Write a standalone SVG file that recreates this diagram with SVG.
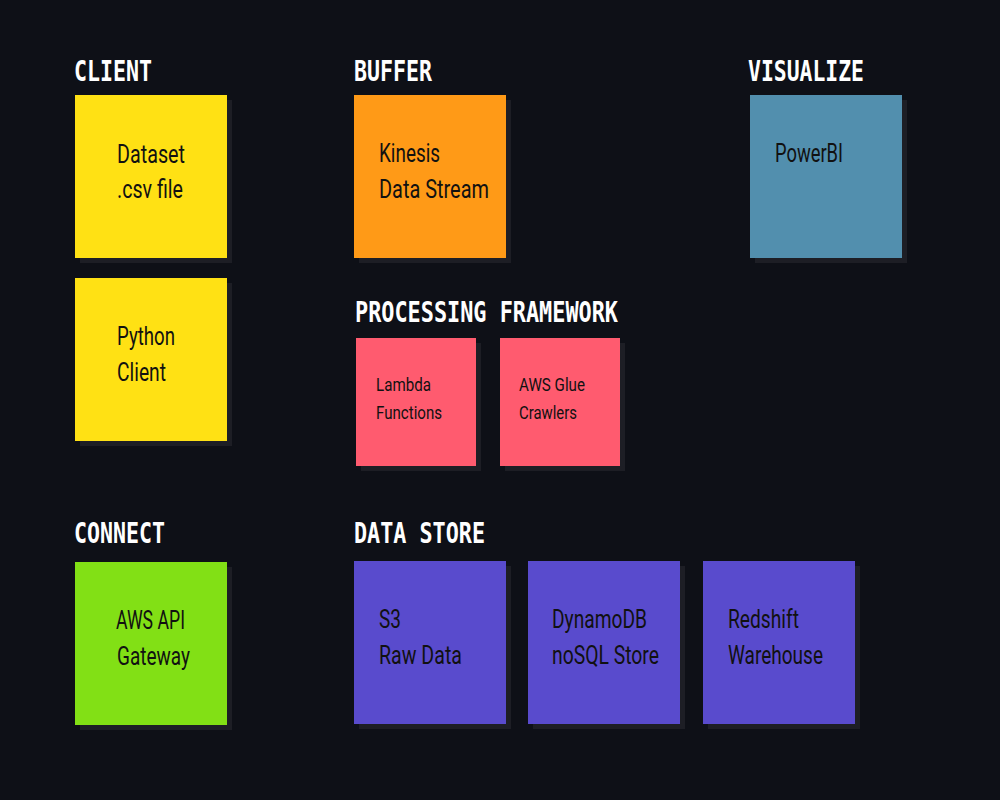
<svg xmlns="http://www.w3.org/2000/svg" width="1000" height="800" viewBox="0 0 1000 800">
<defs>
<style>
.bg{fill:#0e1017}
.sh{fill:#1d1e25}
.h{font-family:"DejaVu Sans Mono","Liberation Mono",monospace;font-weight:bold;font-size:28px;fill:#ffffff}
.t{font-family:Roboto,"Liberation Sans",sans-serif;font-size:25px;fill:#111111}
.s{font-family:Roboto,"Liberation Sans",sans-serif;font-size:18px;fill:#111111}
.yel{fill:#ffe114}
.org{fill:#ff9a17}
.blu{fill:#528fae}
.red{fill:#ff5b6f}
.pur{fill:#594bcd}
.grn{fill:#82e015}
</style>
</defs>
<rect class="bg" x="0" y="0" width="1000" height="800"/>
<g id="headings">
<text class="h" x="74" y="81" textLength="78" lengthAdjust="spacingAndGlyphs">CLIENT</text>
<text class="h" x="354" y="81" textLength="78" lengthAdjust="spacingAndGlyphs">BUFFER</text>
<text class="h" x="748" y="81" textLength="116" lengthAdjust="spacingAndGlyphs">VISUALIZE</text>
<text class="h" x="355" y="322" textLength="263" lengthAdjust="spacingAndGlyphs">PROCESSING FRAMEWORK</text>
<text class="h" x="74" y="543" textLength="91" lengthAdjust="spacingAndGlyphs">CONNECT</text>
<text class="h" x="354" y="543" textLength="131" lengthAdjust="spacingAndGlyphs">DATA STORE</text>
</g>
<g id="dataset">
<rect class="sh" x="80" y="100" width="152" height="163"/>
<rect class="yel" x="75" y="95" width="152" height="163"/>
<text class="t" x="117" y="163" textLength="68" lengthAdjust="spacingAndGlyphs">Dataset</text>
<text class="t" x="117" y="198" textLength="66" lengthAdjust="spacingAndGlyphs">.csv file</text>
</g>
<g id="python-client">
<rect class="sh" x="80" y="283" width="152" height="163"/>
<rect class="yel" x="75" y="278" width="152" height="163"/>
<text class="t" x="117" y="345" textLength="58" lengthAdjust="spacingAndGlyphs">Python</text>
<text class="t" x="117" y="381" textLength="49" lengthAdjust="spacingAndGlyphs">Client</text>
</g>
<g id="kinesis">
<rect class="sh" x="359" y="100" width="152" height="163"/>
<rect class="org" x="354" y="95" width="152" height="163"/>
<text class="t" x="379" y="162" textLength="61" lengthAdjust="spacingAndGlyphs">Kinesis</text>
<text class="t" x="379" y="198" textLength="110" lengthAdjust="spacingAndGlyphs">Data Stream</text>
</g>
<g id="powerbi">
<rect class="sh" x="755" y="100" width="152" height="163"/>
<rect class="blu" x="750" y="95" width="152" height="163"/>
<text class="t" x="775" y="162" textLength="68" lengthAdjust="spacingAndGlyphs">PowerBI</text>
</g>
<g id="lambda">
<rect class="sh" x="361" y="343" width="120" height="128"/>
<rect class="red" x="356" y="338" width="120" height="128"/>
<text class="s" x="376" y="391" textLength="55" lengthAdjust="spacingAndGlyphs">Lambda</text>
<text class="s" x="376" y="419" textLength="66" lengthAdjust="spacingAndGlyphs">Functions</text>
</g>
<g id="glue">
<rect class="sh" x="505" y="343" width="120" height="128"/>
<rect class="red" x="500" y="338" width="120" height="128"/>
<text class="s" x="519" y="391" textLength="66" lengthAdjust="spacingAndGlyphs">AWS Glue</text>
<text class="s" x="519" y="419" textLength="58" lengthAdjust="spacingAndGlyphs">Crawlers</text>
</g>
<g id="api-gateway">
<rect class="sh" x="80" y="567" width="152" height="163"/>
<rect class="grn" x="75" y="562" width="152" height="163"/>
<text class="t" x="116" y="629" textLength="69" lengthAdjust="spacingAndGlyphs">AWS API</text>
<text class="t" x="117" y="665" textLength="73" lengthAdjust="spacingAndGlyphs">Gateway</text>
</g>
<g id="s3">
<rect class="sh" x="359" y="566" width="152" height="163"/>
<rect class="pur" x="354" y="561" width="152" height="163"/>
<text class="t" x="379" y="628" textLength="22" lengthAdjust="spacingAndGlyphs">S3</text>
<text class="t" x="379" y="664" textLength="83" lengthAdjust="spacingAndGlyphs">Raw Data</text>
</g>
<g id="dynamodb">
<rect class="sh" x="533" y="566" width="152" height="163"/>
<rect class="pur" x="528" y="561" width="152" height="163"/>
<text class="t" x="552" y="628" textLength="95" lengthAdjust="spacingAndGlyphs">DynamoDB</text>
<text class="t" x="552" y="664" textLength="107" lengthAdjust="spacingAndGlyphs">noSQL Store</text>
</g>
<g id="redshift">
<rect class="sh" x="708" y="566" width="152" height="163"/>
<rect class="pur" x="703" y="561" width="152" height="163"/>
<text class="t" x="728" y="628" textLength="71" lengthAdjust="spacingAndGlyphs">Redshift</text>
<text class="t" x="728" y="664" textLength="95" lengthAdjust="spacingAndGlyphs">Warehouse</text>
</g>
<g id="connectors"></g>
</svg>
